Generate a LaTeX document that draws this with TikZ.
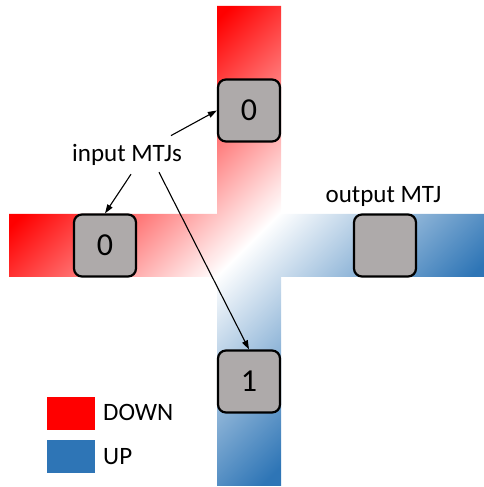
\documentclass[tikz,border=0pt]{standalone}
\usepackage{fontspec}
\setmainfont{Carlito}
\usepackage{xcolor}
\usepackage{tikz}
\usetikzlibrary{arrows.meta}
\definecolor{downred}{HTML}{FF0000}
\definecolor{upblue}{HTML}{2E75B6}
\definecolor{mtjgray}{HTML}{AEAAAA}
\pgfdeclarehorizontalshading{spinflow}{100bp}{color(0bp)=(downred); color(31bp)=(downred); color(50bp)=(white); color(69bp)=(upblue); color(100bp)=(upblue)}

\begin{document}
\begin{tikzpicture}[x=1pt,y=1pt,
		mtj/.style={draw=black,line width=2.2pt,fill=mtjgray,rounded corners=8pt,minimum width=62pt,minimum height=62pt,inner sep=0pt,font=\fontsize{32}{38}\selectfont},
		lbl/.style={font=\fontsize{25}{30}\selectfont,inner sep=0pt},
		key/.style={minimum width=48pt,minimum height=33pt,inner sep=0pt},
		arr/.style={-{Triangle[length=9pt,width=6pt]},line width=1.1pt}]
		\useasboundingbox (0,0) rectangle (484,487);
		% the cross
		\shade[shading=spinflow,shading angle=-45] (217,1) -- (217,210) -- (9,210) -- (9,273) -- (217,273) -- (217,481) -- (281,481) -- (281,273) -- (484,273) -- (484,210) -- (281,210) -- (281,1) -- cycle;
		\node[mtj] (top) at (249,376.5) {0};
		\node[mtj] (left) at (105,241.5) {0};
		\node[mtj] (right) at (385,241.5) {};
		\node[mtj] (bot) at (249,105.5) {1};
		\node[lbl,anchor=base] (inp) at (127,325) {input MTJs};
		\node[lbl,anchor=base] (outp) at (383.5,284) {output MTJ};
		\draw[arr] ([xshift=44pt,yshift=9pt]inp.north) -- (top.west);
		\draw[arr] ([xshift=4pt,yshift=-8pt]inp.south) -- (left.north);
		\draw[arr] ([xshift=32pt,yshift=-6pt]inp.south) -- (bot.north);
		% legend
		\node[key,fill=downred] (down) at (71,73.5) {};
		\node[key,fill=upblue] (up) at (71,30) {};
		\node[lbl,anchor=base west] (downtxt) at (103,66) {DOWN};
		\node[lbl,anchor=base west] (uptxt) at (103,23) {UP};
	\end{tikzpicture}
\end{document}
